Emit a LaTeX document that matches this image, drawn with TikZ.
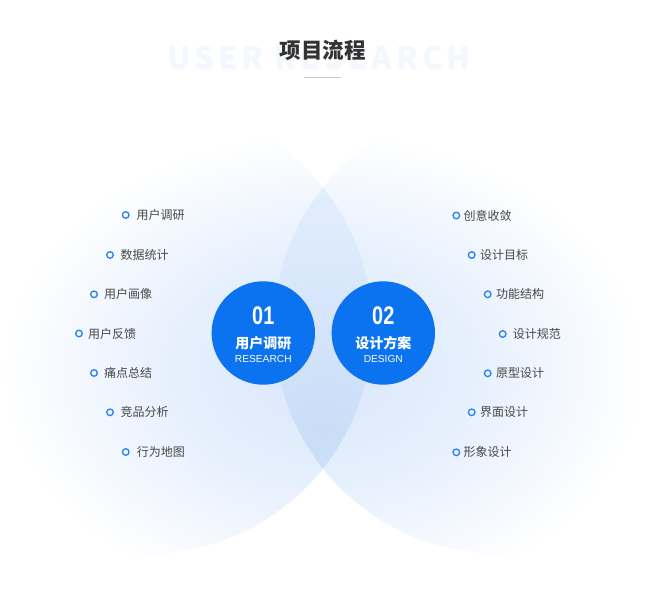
\documentclass[tikz,border=0pt]{standalone}
\usepackage{fontspec}
\newfontfamily\cjk{Noto Sans CJK SC}
\newfontfamily\arialf{Liberation Sans}
\usetikzlibrary{calc}
\definecolor{dotblue}{HTML}{0B72F0}
\definecolor{bulletblue}{HTML}{2A7FF3}
\definecolor{itemtext}{HTML}{474747}
\definecolor{titletext}{HTML}{333333}
\definecolor{watermark}{HTML}{F3F7FE}
\definecolor{ruleline}{HTML}{C8C8C8}
\definecolor{glowA}{HTML}{D9E7FB}
\definecolor{glowB}{HTML}{E6F0FD}
\definecolor{lensA}{HTML}{C9DDF8}
\definecolor{lensB}{HTML}{E6F0FD}
\pgfdeclareradialshading{lglow}{\pgfpoint{0bp}{0bp}}{color(0bp)=(glowA); color(12bp)=(glowB); color(25bp)=(white); color(50bp)=(white)}
\pgfdeclareradialshading{lensglow}{\pgfpoint{0bp}{0bp}}{color(0bp)=(lensA); color(25bp)=(lensB); color(50bp)=(lensB)}
\tikzset{
  bigdot/.style={circle, fill=dotblue, minimum size=103.4pt, inner sep=0pt},
  bullet/.style={circle, draw=bulletblue, line width=1.3pt, minimum size=6.6pt, inner sep=0pt},
  item/.style={text=itemtext, font=\cjk\fontsize{12}{12}\selectfont, inner sep=0pt, anchor=west},
  numtext/.style={text=white, font=\arialf\bfseries\fontsize{25.5}{25.5}\selectfont, inner sep=0pt},
  cntext/.style={text=white, font=\cjk\bfseries\fontsize{14}{14}\selectfont, inner sep=0pt},
  entext/.style={text=white, font=\arialf\fontsize{10.2}{10.2}\selectfont, inner sep=0pt},
}
\begin{document}
\begin{tikzpicture}[x=1pt,y=-1pt]
\useasboundingbox (0,0) rectangle (645,600);
\fill[white] (0,0) rectangle (645,600);
% left glow circle
\begin{scope}
  \clip (146,328) circle[radius=226pt];
  \shade[shading=lglow] (330,370) ellipse[x radius=330pt, y radius=240pt];
\end{scope}
% right glow circle
\begin{scope}
  \clip (500,328) circle[radius=226pt];
  \shade[shading=lglow] (316,370) ellipse[x radius=330pt, y radius=240pt];
\end{scope}
% lens
\begin{scope}
  \clip (146,328) circle[radius=226pt];
  \clip (500,328) circle[radius=226pt];
  \shade[shading=lensglow] (323,430) circle[radius=270pt];
\end{scope}
% watermark and title
\node[text=watermark, font=\cjk\bfseries\fontsize{31}{31}\selectfont\addfontfeatures{LetterSpace=13}, inner sep=0pt] (wm) at (319,57.5) {USER RESEARCH};
\node[text=titletext, font=\cjk\bfseries\fontsize{21.5}{21.5}\selectfont, inner sep=0pt] (title) at (322.5,50) {项目流程};
\coordinate (rl) at (304,77);
\coordinate (rr) at (341,77);
\draw[ruleline, line width=1pt] (rl) -- (rr);
% central circles
\node[bigdot] (c1) at (263.3,333) {};
\node[bigdot] (c2) at (383.3,333) {};
\node[numtext] (n1) at ([yshift=17pt]c1.center) {\scalebox{0.78}[1]{01}};
\node[numtext] (n2) at ([yshift=17pt]c2.center) {\scalebox{0.78}[1]{02}};
\node[cntext] (z1) at ([yshift=-10.5pt]c1.center) {用户调研};
\node[cntext] (z2) at ([yshift=-10.5pt]c2.center) {设计方案};
\node[entext] (e1) at ([yshift=-25.7pt]c1.center) {RESEARCH};
\node[entext] (e2) at ([yshift=-25.7pt]c2.center) {DESIGN};
% left items
\foreach \n/\bx/\tx/\y/\t in {1/125.7/136.5/215/用户调研, 2/110/120.5/255/数据统计, 3/94/104/294.3/用户画像, 4/79/88/333.5/用户反馈, 5/94/104/373/痛点总结, 6/110/120.5/412.3/竞品分析, 7/125.7/136.7/452/行为地图}{
  \node[bullet] (lb\n) at (\bx,\y) {};
  \node[item] (lt\n) at (\tx,\y) {\t};
}
% right items
\foreach \n/\bx/\tx/\y/\t in {1/456.3/463.3/215.5/创意收敛, 2/471.7/480/255/设计目标, 3/487.7/496/294.3/功能结构, 4/502.7/512.7/334/设计规范, 5/487.7/496/373.3/原型设计, 6/471.7/480/412.3/界面设计, 7/456.3/463.3/452.3/形象设计}{
  \node[bullet] (rb\n) at (\bx,\y) {};
  \node[item] (rt\n) at (\tx,\y) {\t};
}
\end{tikzpicture}
\end{document}
